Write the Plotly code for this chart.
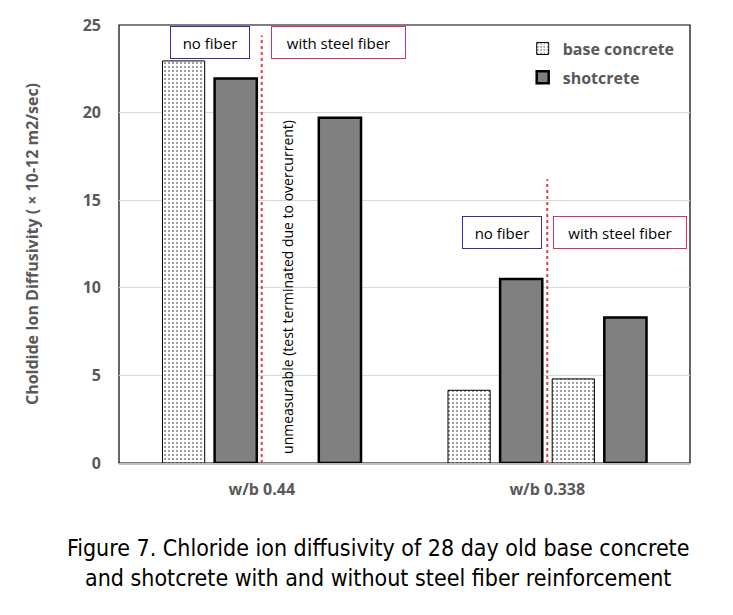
import plotly.graph_objects as go

# data
categories = ["w/b 0.44", "w/b 0.338"]
base_no_fiber = [22.95, 4.15]
shot_no_fiber = [21.95, 10.5]
base_steel_fiber = [None, 4.8]   # unmeasurable for w/b 0.44
shot_steel_fiber = [19.7, 8.3]

y_ticks = [0, 5, 10, 15, 20, 25]

base_style = dict(color="white", line=dict(color="black", width=1),
                  pattern=dict(shape=".", fgcolor="black", bgcolor="white", size=4, solidity=0.2))
shot_style = dict(color="#808080", line=dict(color="black", width=2.5))

fig = go.Figure()
fig.add_trace(go.Bar(x=categories, y=base_no_fiber, name="base concrete", marker=base_style,
                     legendgroup="base"))
fig.add_trace(go.Bar(x=categories, y=shot_no_fiber, name="shotcrete", marker=shot_style,
                     legendgroup="shot"))
fig.add_trace(go.Bar(x=categories, y=base_steel_fiber, name="base concrete", marker=base_style,
                     legendgroup="base", showlegend=False))
fig.add_trace(go.Bar(x=categories, y=shot_steel_fiber, name="shotcrete", marker=shot_style,
                     legendgroup="shot", showlegend=False))

tick_family = "Open Sans, Noto Sans, sans-serif"

# page has an 8px body margin, margins compensate for it
fig.update_layout(
    width=733, height=615,
    margin=dict(l=111, r=51, t=17, b=160, autoexpand=False),
    paper_bgcolor="white", plot_bgcolor="white",
    barmode="group", bargap=0.27, bargroupgap=0.19,
    font=dict(family="Open Sans, Noto Sans, sans-serif"),
    showlegend=True,
    legend=dict(x=0.707, y=0.985, xanchor="left", yanchor="top",
                font=dict(size=16, color="#595959", family="Open Sans, sans-serif", weight="bold"),
                itemwidth=30, tracegroupgap=5, bgcolor="rgba(0,0,0,0)"),
)

fig.update_xaxes(showline=True, linecolor="#bfbfbf", linewidth=1.5, ticks="", automargin=False,
                 tickfont=dict(family=tick_family, size=16, color="#595959", weight="bold"),
                 ticklabelstandoff=11)
fig.update_yaxes(range=[0, 25], tickvals=y_ticks, showgrid=True, gridcolor="#d9d9d9",
                 zeroline=False, showline=False, ticks="", automargin=False,
                 tickfont=dict(family=tick_family, size=16, color="#595959", weight="bold"),
                 ticklabelstandoff=17,
                 title=dict(text="Choldide Ion Diffusivity ( × 10-12 m2/sec)",
                            font=dict(size=16, color="#595959", weight="bold"), standoff=40))

# plot-area border
fig.add_shape(type="rect", xref="paper", yref="paper", x0=0, x1=1, y0=0, y1=1,
              line=dict(color="black", width=1.2), layer="below")

# red dotted separators between "no fiber" and "with steel fiber"
fig.add_shape(type="line", xref="x", yref="y", x0=categories[0], x1=categories[0], y0=0, y1=24.4,
              line=dict(color="#e04050", width=2, dash="dot"))
fig.add_shape(type="line", xref="x", yref="y", x0=categories[1], x1=categories[1], y0=0, y1=16.2,
              line=dict(color="#e04050", width=2, dash="dot"))

box_font = dict(family="Open Sans, Noto Sans, sans-serif", size=15, color="black")
boxes = [
    ("no fiber", 0.159, 0.960, 76, "#3030a0"),
    ("with steel fiber", 0.384, 0.960, 131, "#e0305a"),
    ("no fiber", 0.671, 0.527, 76, "#3030a0"),
    ("with steel fiber", 0.877, 0.527, 130, "#e0305a"),
]
for txt, bx, by, w, c in boxes:
    fig.add_annotation(text=txt, xref="paper", yref="paper", x=bx, y=by, showarrow=False,
                       xanchor="center", yanchor="middle",
                       font=box_font, width=w, height=29, bordercolor=c, borderwidth=1,
                       borderpad=1, bgcolor="white")

fig.add_annotation(text="unmeasurable (test terminated due to overcurrent)", xref="paper",
                   yref="paper", x=0.296, y=0.402, textangle=-90, showarrow=False,
                   xanchor="center", yanchor="middle",
                   font=dict(family="Open Sans, Noto Sans, sans-serif", size=14, color="black"))

# caption under the chart
fig.add_annotation(text="Figure 7. Chloride ion diffusivity of 28 day old base concrete<br>"
                        "and shotcrete with and without steel fiber reinforcement",
                   xref="paper", yref="paper", x=0.4536, y=-0.16, xanchor="center", yanchor="top",
                   showarrow=False,
                   font=dict(family="Liberation Sans Narrow, DejaVu Sans Condensed, sans-serif",
                             size=23, color="black"))

fig.write_html("out.html")
